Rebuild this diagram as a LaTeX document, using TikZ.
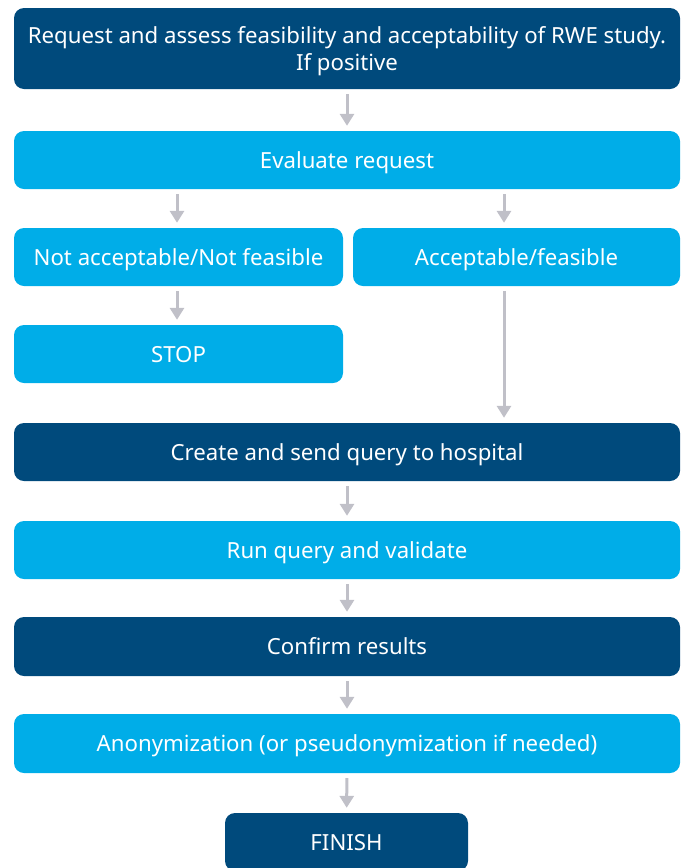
\documentclass[tikz,border=0pt]{standalone}
\usepackage{fontspec}
\setmainfont{Noto Sans}
\usetikzlibrary{arrows.meta}
\definecolor{navy}{RGB}{0,74,124}
\definecolor{sky}{RGB}{0,173,232}
\definecolor{arrgray}{RGB}{192,192,200}
\begin{document}
\begin{tikzpicture}[x=1pt,y=-1pt,
  box/.style={rectangle,rounded corners=10pt,inner sep=0pt,text=white,align=center,
    font=\fontsize{22.2}{27}\selectfont,minimum height=58pt,text height=18pt,text depth=2pt},
  dark/.style={box,fill=navy},
  light/.style={box,fill=sky},
  arr/.style={draw=arrgray,line width=3pt,-{Triangle[width=14pt,length=12pt]},shorten <=5pt,shorten >=5pt}]
\useasboundingbox (0,0) rectangle (688,868);
\node[dark,minimum width=666pt,minimum height=81pt,text height=,text depth=] (req) at (347,48.5)
  {\raisebox{-3pt}[\height][\depth]{\begin{tabular}{@{}c@{}}Request and assess feasibility and acceptability of RWE study.\\If positive\end{tabular}}};
\node[light,minimum width=666pt] (eval) at (347,160) {Evaluate request};
\node[light,minimum width=329pt] (na) at (178.5,257) {Not acceptable/Not feasible};
\node[light,minimum width=327pt] (acc) at (516.5,257) {Acceptable/feasible};
\node[light,minimum width=329pt] (stop) at (178.5,354) {STOP};
\node[dark,minimum width=666pt] (create) at (347,452) {Create and send query to hospital};
\node[light,minimum width=666pt] (run) at (347,550) {Run query and validate};
\node[dark,minimum width=666pt,minimum height=59pt] (conf) at (347,646.5) {Confirm results};
\node[light,minimum width=666pt,minimum height=59pt] (anon) at (347,743.5) {Anonymization (or pseudonymization if needed)};
\node[dark,minimum width=243pt] (fin) at (346.5,842) {FINISH};
\coordinate (cl) at (177,0);
\coordinate (cr) at (504,0);
\draw[arr] (req) -- (eval);
\draw[arr] (eval.south -| cl) -- (na.north -| cl);
\draw[arr] (eval.south -| cr) -- (acc.north -| cr);
\draw[arr] (na.south -| cl) -- (stop.north -| cl);
\draw[arr] (acc.south -| cr) -- (create.north -| cr);
\draw[arr] (create) -- (run);
\draw[arr] (run) -- (conf);
\draw[arr] (conf) -- (anon);
\draw[arr] (anon) -- (fin);
\end{tikzpicture}
\end{document}
